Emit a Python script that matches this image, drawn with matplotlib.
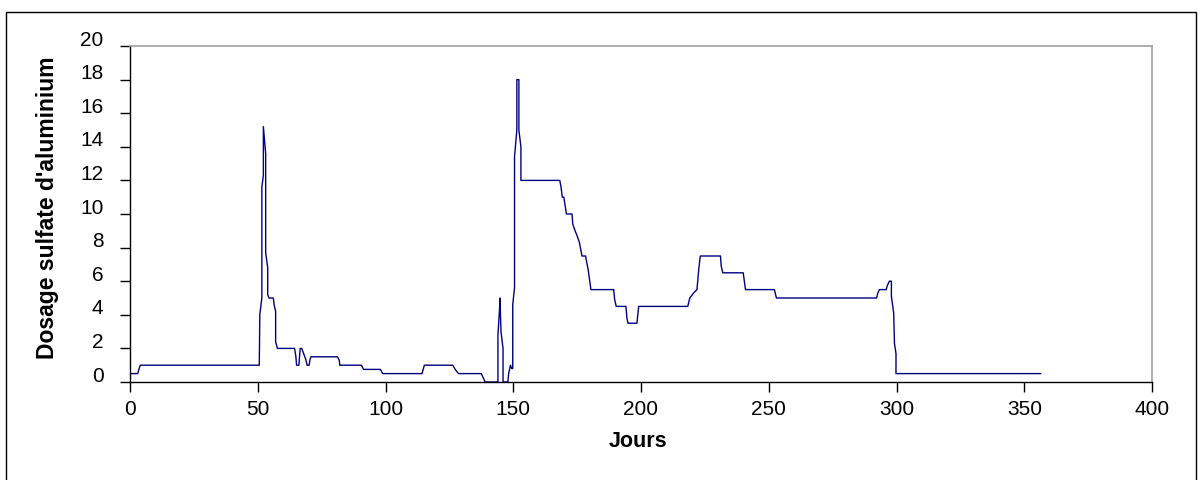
import matplotlib
matplotlib.use("Agg")
import matplotlib.pyplot as plt
from matplotlib.patches import Rectangle
from matplotlib.transforms import ScaledTranslation

# ---- data ----
jours = [0, 3, 4, 50.6, 50.8, 51.6, 51.6, 52.2, 52.2, 53.1, 53.1, 53.9, 53.9, 54.4,
         56.1, 56.4, 57.0, 57.0, 57.7, 64.4, 64.9, 65.2, 66.1, 66.6, 67.2, 68.9,
         69.3, 70.1, 70.4, 70.8, 81.2, 81.9, 82.1, 90.6, 91.4, 98.0, 98.9, 114.3,
         115.2, 126.3, 127.5, 128.6, 137.5, 139.0, 144.0, 144.0, 144.9, 144.9,
         145.2, 146.0, 146.0, 147.9, 148.2, 148.9, 149.4, 149.8, 149.8, 150.5,
         150.5, 151.4, 151.4, 152.2, 152.2, 153.0, 153.0, 168.2, 168.7, 169.2,
         169.8, 170.4, 170.8, 173.0, 173.3, 174.2, 175.0, 175.9, 176.4, 176.9,
         178.3, 179.3, 180.4, 189.3, 189.7, 190.3, 194.1, 194.5, 194.9, 198.4,
         199.1, 218.3, 219.1, 220.6, 221.9, 222.6, 223.2, 231.1, 231.4, 232.0,
         240.0, 240.9, 252.2, 253.0, 292.2, 292.7, 293.3, 296.0, 296.3, 297.2,
         298.0, 298.0, 298.9, 299.2, 299.8, 299.8, 356.4]
dosage = [0.5, 0.5, 1.0, 1.0, 4.0, 5.0, 11.6, 12.3, 15.2, 13.6, 7.7, 6.8, 5.2, 5.0,
          5.0, 4.6, 4.2, 2.4, 2.0, 2.0, 1.55, 1.0, 1.0, 2.0, 2.0, 1.3,
          1.0, 1.0, 1.3, 1.5, 1.5, 1.3, 1.0, 1.0, 0.75, 0.75, 0.5, 0.5,
          1.0, 1.0, 0.7, 0.5, 0.5, 0.0, 0.0, 2.8, 5.0, 4.5,
          3.0, 2.0, 0.0, 0.0, 0.5, 1.0, 0.8, 0.8, 4.6, 5.6,
          13.4, 15.0, 18.0, 18.0, 15.0, 14.0, 12.0, 12.0, 11.6, 11.0,
          11.0, 10.4, 10.0, 10.0, 9.4, 9.0, 8.7, 8.3, 7.9, 7.5,
          7.5, 6.7, 5.5, 5.5, 4.9, 4.5, 4.5, 3.8, 3.5, 3.5,
          4.5, 4.5, 5.0, 5.3, 5.5, 6.7, 7.5, 7.5, 6.9, 6.5,
          6.5, 5.5, 5.5, 5.0, 5.0, 5.3, 5.5, 5.5, 5.7, 6.0,
          6.0, 5.1, 4.1, 2.3, 1.7, 0.5, 0.5]
x_ticks = [0, 50, 100, 150, 200, 250, 300, 350, 400]
y_ticks = [0, 2, 4, 6, 8, 10, 12, 14, 16, 18, 20]
x_label = "Jours"
y_label = "Dosage sulfate d'aluminium"

plt.rcParams['font.family'] = ['Liberation Sans', 'DejaVu Sans']

fig = plt.figure(figsize=(12, 4.8), dpi=100)
ax = fig.add_axes([130/1200, 98/480, 1022/1200, 336/480])

ax.plot(jours, dosage, color='#000080', lw=1.0)

ax.set_xlim(0, 400)
ax.set_ylim(0, 20)
ax.set_xticks(x_ticks)
ax.set_yticks(y_ticks)
ax.tick_params(axis='both', direction='out', length=7, width=1, labelsize=15, colors='black')
ax.tick_params(axis='y', pad=12)
ax.tick_params(axis='x', pad=6)

for lab in ax.get_yticklabels():
    lab.set_transform(lab.get_transform() + ScaledTranslation(0, 8/100, fig.dpi_scale_trans))

for s in ['top', 'right']:
    ax.spines[s].set_color('#a0a0a0')
    ax.spines[s].set_linewidth(1.2)
for s in ['left', 'bottom']:
    ax.spines[s].set_color('black')
    ax.spines[s].set_linewidth(1.0)

ax.set_xlabel(x_label, fontsize=15.5, fontweight='bold', va='center')
ax.xaxis.set_label_coords(0.497, -0.1756)
ax.set_ylabel(y_label, fontsize=16.5, fontweight='bold', va='center')
ax.yaxis.set_label_coords(-0.0812, 0.52)

fig.patches.append(Rectangle((6/1200, -0.02), 1190/1200, 0.995, transform=fig.transFigure,
                             fill=False, edgecolor='black', lw=1.0))

fig.savefig('out.png', dpi=100)
